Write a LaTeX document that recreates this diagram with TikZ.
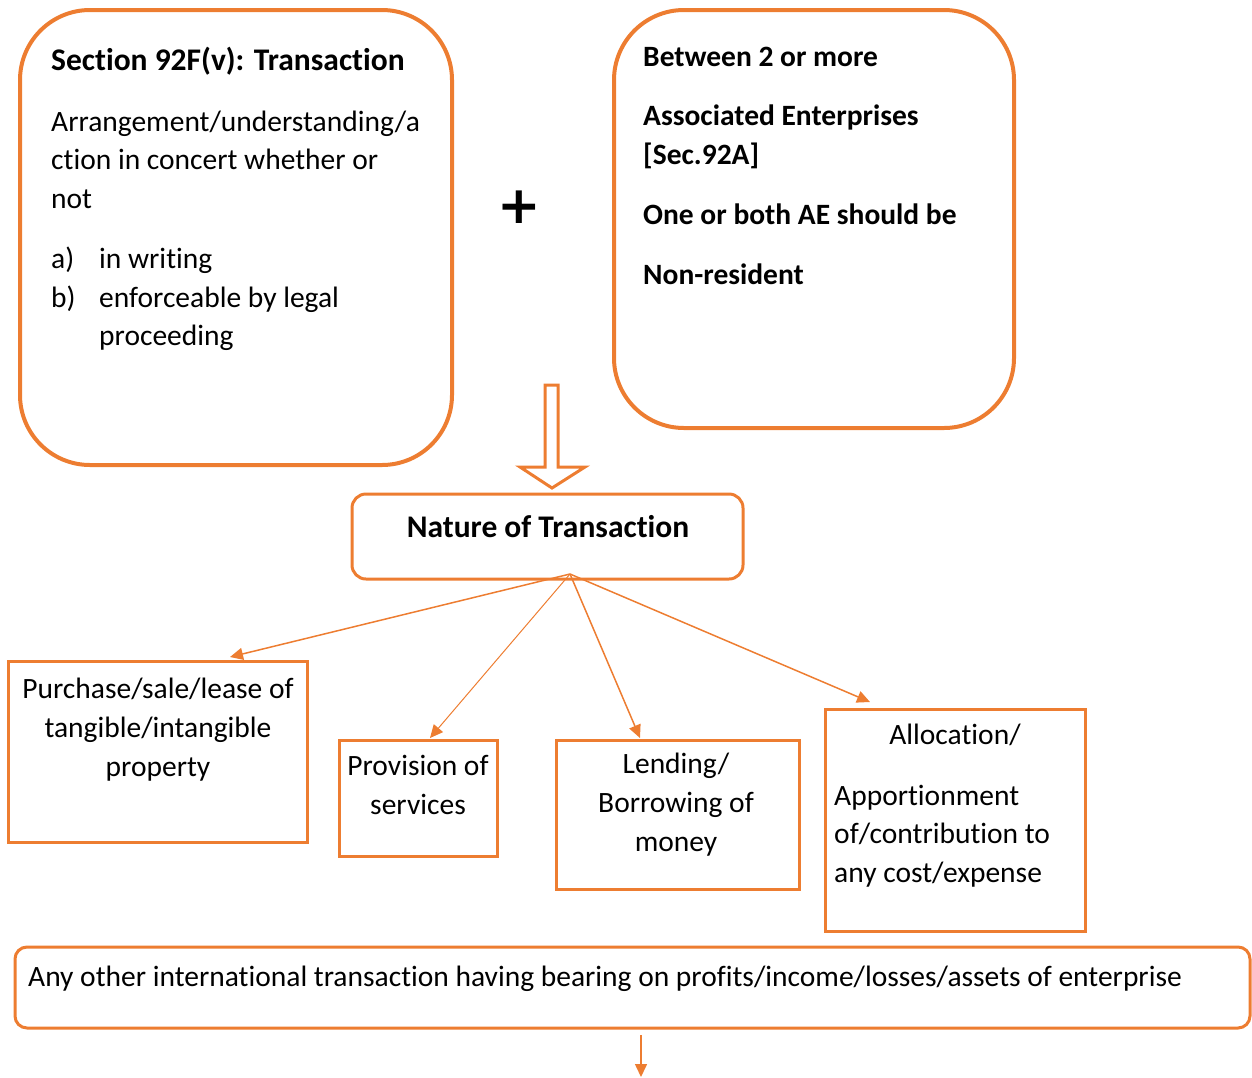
\documentclass[tikz,border=0pt]{standalone}
\usepackage{fontspec}
\setmainfont[Ligatures=NoCommon]{Carlito}
\newfontfamily\plusfont{DejaVu Sans}
\usetikzlibrary{arrows.meta,calc}
\definecolor{org}{HTML}{ED7D31}
\begin{document}
\begin{tikzpicture}[x=1pt,y=-1pt,
  bigbox/.style={draw=org,line width=4pt,rounded corners=70pt,inner sep=0pt},
  smallbox/.style={draw=org,line width=3pt,inner sep=0pt},
  txt/.style={font=\fontsize{29.5}{38}\selectfont,inner sep=0pt,anchor=base west},
  ctxt/.style={font=\fontsize{29.5}{38}\selectfont,inner sep=0pt,anchor=base},
  btxt/.style={font=\fontsize{29.5}{38}\selectfont\bfseries,inner sep=0pt,anchor=base west},
  fan/.style={draw=org,line width=1.5pt,-{Triangle[length=13pt,width=12pt]}}]
\useasboundingbox (0,0) rectangle (1252,1077);
% top boxes
\node[bigbox,minimum width=432pt,minimum height=455pt] (box1) at (236,237.5) {};
\node[bigbox,minimum width=400pt,minimum height=418pt] (box2) at (814,219) {};
\node[btxt,font=\fontsize{31.5}{38}\selectfont\bfseries] (t1) at (51,70) {Section 92F(v): Transaction};
\node[txt] (t2) at (51,131) {Arrangement/understanding/a};
\node[txt] (t3) at (51,169) {ction in concert whether or};
\node[txt] (t4) at (51,208) {not};
\node[txt] (t5a) at (51,268) {a)};
\node[txt] (t5) at (99,268) {in writing};
\node[txt] (t6a) at (51,307) {b)};
\node[txt] (t6) at (99,307) {enforceable by legal};
\node[txt] (t7) at (99,345) {proceeding};
\node[btxt] (s1) at (643,66) {Between 2 or more};
\node[btxt] (s2) at (643,125) {Associated Enterprises};
\node[btxt] (s3) at (643,164) {[Sec.92A]};
\node[btxt] (s4) at (643,224) {One or both AE should be};
\node[btxt] (s5) at (643,284) {Non-resident};
\node[font=\fontsize{52}{52}\selectfont\plusfont\bfseries,inner sep=0pt] (plus) at (519,207) {+};
% hollow arrow
\draw[org,line width=3pt,line join=miter] (545,385) -- (558,385) -- (558,467) -- (585,467) -- (552,488) -- (520,467) -- (545,467) -- cycle;
% nature box
\node[draw=org,line width=3pt,rounded corners=14pt,minimum width=391pt,minimum height=85pt,inner sep=0pt] (nat) at (547.5,536.5) {};
\node[font=\fontsize{31.5}{38}\selectfont\bfseries,inner sep=0pt,anchor=base] (natt) at (548,537) {Nature of Transaction};
\coordinate (apex) at (570,574);
% bottom boxes
\node[smallbox,minimum width=299pt,minimum height=181pt] (pur) at (157.5,751.5) {};
\node[ctxt] (purt1) at (158,698) {Purchase/sale/lease of};
\node[ctxt] (purt2) at (158,737) {tangible/intangible};
\node[ctxt] (purt3) at (158,776) {property};
\node[smallbox,minimum width=158pt,minimum height=116pt] (pro) at (418,798) {};
\node[ctxt] (prot1) at (418,775) {Provision of};
\node[ctxt] (prot2) at (418,814) {services};
\node[smallbox,minimum width=243pt,minimum height=149pt] (len) at (677.5,814.5) {};
\node[ctxt] (lent1) at (676,773) {Lending/};
\node[ctxt] (lent2) at (676,812) {Borrowing of};
\node[ctxt] (lent3) at (676,851) {money};
\node[smallbox,minimum width=260pt,minimum height=222pt] (all) at (955,820) {};
\node[ctxt] (allt) at (955,744) {Allocation/};
\node[txt] (a2) at (834,805) {Apportionment};
\node[txt] (a3) at (834,843) {of/contribution to};
\node[txt] (a4) at (834,882) {any cost/expense};
\coordinate (ep) at (230,657);
\coordinate (eq) at (430,738);
\coordinate (er) at (640,738);
\coordinate (es) at (870,702);
\draw[fan] (apex) -- (ep);
\draw[fan,line width=1pt] (apex) -- (eq);
\draw[fan] (apex) -- (er);
\draw[fan] (apex) -- (es);
% bottom wide box
\node[draw=org,line width=3pt,rounded corners=12pt,minimum width=1235pt,minimum height=81pt,inner sep=0pt] (oth) at (632.5,987.5) {};
\node[txt] (otht) at (28,986) {Any other international transaction having bearing on profits/income/losses/assets of enterprise};
\coordinate (bstart) at (641,1035);
\coordinate (bend) at (641,1077);
\draw[fan] (bstart) -- (bend);
\end{tikzpicture}
\end{document}
